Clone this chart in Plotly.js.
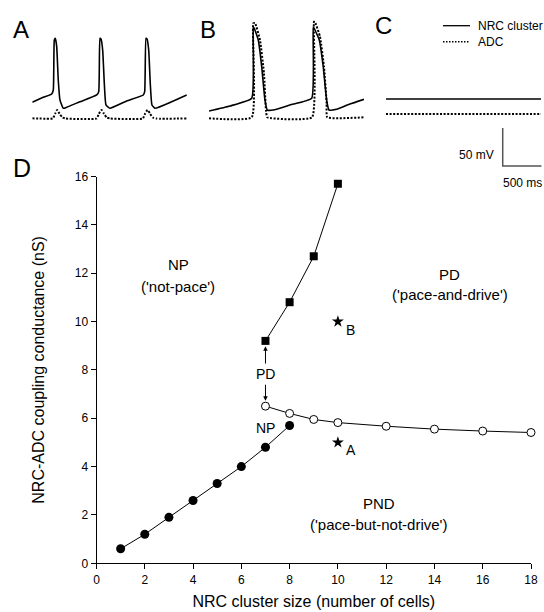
<!DOCTYPE html>
<html><head><meta charset="utf-8">
<script src="https://cdn.plot.ly/plotly-3.0.1.min.js"></script>
<style>html,body{margin:0;padding:0;background:#fff}#chart{width:544px;height:612px}</style>
</head><body><div id="chart"></div>
<script>
// ---------- Panel A (ms, mV) ----------
const aTime = [0, 142, 250, 271, 284, 297, 315, 335, 357, 400, 444, 615, 831, 857, 873, 886, 908, 929, 951, 1002, 1218, 1432, 1450, 1467, 1480, 1502, 1522, 1544, 1583, 1798, 1992];
const aNRC  = [-39, -32.4, -28, -22.8, 43, 45.3, 34.2, -9.6, -35.9, -46.8, -45.5, -38.2, -29.3, -25, 45.3, 44.4, 29.9, -13.9, -42.5, -46.8, -37.2, -29.3, -25, 45.3, 44.4, 29.9, -13.9, -42.5, -46.8, -38.2, -29.3];
const aAdcTime = [0, 265, 295, 320, 352, 390, 430, 830, 860, 893, 925, 960, 1005, 1425, 1455, 1487, 1520, 1555, 1600, 2000];
const aADC     = [-60, -60, -54, -49, -54, -59, -60.3, -60.3, -54, -49, -54, -59, -60.3, -60.3, -54, -49, -54, -59, -60.3, -60.3];

// ---------- Panel B ----------
const bTime = [0, 271, 551, 571, 584, 636, 680, 722, 752, 830, 1045, 1325, 1345, 1358, 1423, 1474, 1518, 1548, 1647, 1819, 2000];
const bNRC  = [-50.4, -43.8, -33.7, 60.1, 58.4, 43, 7.9, -35.9, -49.1, -49.1, -42.5, -33.7, 60.1, 58.4, 43, 7.9, -35.9, -49.1, -48.2, -41.2, -35];
const bAdcTime = [0, 551, 571, 593, 658, 709, 735, 752, 1329, 1355, 1367, 1432, 1484, 1518, 1526, 2000];
const bADC     = [-60, -58.7, 65, 65.4, 43, -0.8, -49.1, -58.7, -58.7, 67.1, 66.7, 47.4, 7.9, -40.3, -58.7, -58.7];

// ---------- Panel C ----------
const cTime = [0, 2000];
const cNRC  = [-34.6, -34.6];
const cADC  = [-54.3, -54.3];

// scale bar
const scaleMV = 50, scaleMS = 500;
const scaleX0 = 1506, scaleY0 = -122.8;

// ---------- Panel D ----------
const npX  = [1, 2, 3, 4, 5, 6, 7, 8];
const npY  = [0.6, 1.2, 1.9, 2.6, 3.3, 4.0, 4.8, 5.7];
const pndX = [7, 8, 9, 10, 12, 14, 16, 18];
const pndY = [6.5, 6.2, 5.95, 5.82, 5.67, 5.55, 5.47, 5.41];
const pdX  = [7, 8, 9, 10];
const pdY  = [9.2, 10.8, 12.7, 15.7];
const starX = [10, 10];
const starY = [5.0, 10.0];
const starLabels = ['A', 'B'];
const xTicks = [0, 2, 4, 6, 8, 10, 12, 14, 16, 18];
const yTicks = [0, 2, 4, 6, 8, 10, 12, 14, 16];

const FONT = 'Liberation Sans, Arial, sans-serif';
const solid = {color: '#000', width: 1.6, shape: 'spline', smoothing: 0.4};
const dotted = {color: '#000', width: 2, dash: '2px,1.6px', shape: 'spline', smoothing: 0.4};

const traces = [
  {x: aTime, y: aNRC, xaxis: 'x2', yaxis: 'y2', mode: 'lines', line: solid},
  {x: aAdcTime, y: aADC, xaxis: 'x2', yaxis: 'y2', mode: 'lines', line: dotted},
  {x: bTime, y: bNRC, xaxis: 'x3', yaxis: 'y3', mode: 'lines', line: solid},
  {x: bAdcTime, y: bADC, xaxis: 'x3', yaxis: 'y3', mode: 'lines', line: dotted},
  {x: cTime, y: cNRC, xaxis: 'x4', yaxis: 'y4', mode: 'lines', line: {color: '#000', width: 1.6}},
  {x: cTime, y: cADC, xaxis: 'x4', yaxis: 'y4', mode: 'lines', line: {color: '#000', width: 2, dash: '2px,1.6px'}},
  {x: [scaleX0, scaleX0, scaleX0 + scaleMS], y: [scaleY0 + scaleMV, scaleY0, scaleY0],
   xaxis: 'x4', yaxis: 'y4', mode: 'lines', line: {color: '#555', width: 1.5}},
  // main plot
  {x: pdX, y: pdY, mode: 'lines+markers', cliponaxis: false,
   line: {color: '#000', width: 1}, marker: {symbol: 'square', size: 8, color: '#000'}},
  {x: npX, y: npY, mode: 'lines+markers', cliponaxis: false,
   line: {color: '#000', width: 1}, marker: {symbol: 'circle', size: 9, color: '#000'}},
  {x: pndX, y: pndY, mode: 'lines+markers', cliponaxis: false,
   line: {color: '#000', width: 1}, marker: {symbol: 'circle', size: 8, color: '#fff', line: {color: '#000', width: 1}}},
  {x: starX, y: starY, mode: 'markers', cliponaxis: false,
   marker: {symbol: 'star', size: 9, color: '#000'}}
];

const W = 544, H = 612;
const hidden = {visible: false, fixedrange: true};
function lbl(x, y, text, size, extra) {
  return Object.assign({x: x, y: y, xref: 'x', yref: 'y', text: text, showarrow: false,
    xanchor: 'center', yanchor: 'middle',
    font: {family: FONT, size: size, color: '#000'}}, extra || {});
}
function paperLbl(px, py, text, size, extra) {
  return Object.assign({x: px / W, y: 1 - py / H, xref: 'paper', yref: 'paper', text: text,
    showarrow: false, xanchor: 'center', yanchor: 'middle',
    font: {family: FONT, size: size, color: '#000'}}, extra || {});
}

const annotations = [
  paperLbl(21, 29, 'A', 24), paperLbl(208, 29, 'B', 24), paperLbl(383, 26, 'C', 24),
  paperLbl(22, 168, 'D', 25),
  paperLbl(476, 25.7, 'NRC cluster', 12, {xanchor: 'left'}),
  paperLbl(476, 41.7, 'ADC', 12, {xanchor: 'left'}),
  {x: scaleX0, y: scaleY0 + scaleMV / 2, xref: 'x4', yref: 'y4', text: scaleMV + ' mV', showarrow: false,
   xanchor: 'right', yanchor: 'middle', xshift: -7, yshift: -8, font: {family: FONT, size: 12, color: '#000'}},
  {x: scaleX0 + scaleMS / 2, y: scaleY0, xref: 'x4', yref: 'y4', text: scaleMS + ' ms', showarrow: false,
   xanchor: 'center', yanchor: 'middle', yshift: -17, font: {family: FONT, size: 12, color: '#000'}},
  lbl(3.39, 12.34, 'NP', 15), lbl(3.39, 11.47, "('not-pace')", 15),
  lbl(14.64, 11.93, 'PD', 15), lbl(14.64, 11.10, "('pace-and-drive')", 15),
  lbl(11.7, 2.48, 'PND', 15), lbl(11.7, 1.6, "('pace-but-not-drive')", 15),
  lbl(7.0, 5.6, 'NP', 14),
  lbl(7.02, 7.84, 'PD', 14),
  {x: 7, y: 8.98, ax: 7, ay: 8.2, xref: 'x', yref: 'y', axref: 'x', ayref: 'y', text: '',
   showarrow: true, arrowhead: 2, arrowsize: 0.9, arrowwidth: 1, arrowcolor: '#000'},
  {x: 7, y: 6.72, ax: 7, ay: 7.45, xref: 'x', yref: 'y', axref: 'x', ayref: 'y', text: '',
   showarrow: true, arrowhead: 2, arrowsize: 0.9, arrowwidth: 1, arrowcolor: '#000'}
];
starLabels.forEach((t, i) => annotations.push(lbl(starX[i], starY[i], t, 14, {xshift: 13, yshift: -8})));

const shapes = [
  {type: 'line', xref: 'paper', yref: 'paper', x0: 443 / W, x1: 470 / W, y0: 1 - 25.7 / H, y1: 1 - 25.7 / H,
   line: {color: '#000', width: 1.3}},
  {type: 'line', xref: 'paper', yref: 'paper', x0: 443 / W, x1: 470 / W, y0: 1 - 41.7 / H, y1: 1 - 41.7 / H,
   line: {color: '#000', width: 1.5, dash: '1.5px,1.5px'}}
];

const msPerPx = 2000 / 155;
const layout = {
  width: W, height: H, margin: {l: 0, r: 0, t: 0, b: 0},
  paper_bgcolor: '#fff', plot_bgcolor: 'rgba(0,0,0,0)', showlegend: false,
  font: {family: FONT, color: '#000'},
  xaxis: {domain: [96.5 / W, 531 / W], range: [0, 18], tickvals: xTicks, ticks: 'outside', ticklen: 5,
    tickwidth: 1, tickcolor: '#000', showline: true, linecolor: '#000', linewidth: 1, showgrid: false,
    zeroline: false, fixedrange: true, tickfont: {family: FONT, size: 12, color: '#000'},
    title: {text: 'NRC cluster size (number of cells)', font: {family: FONT, size: 16, color: '#000'}, standoff: 10}},
  yaxis: {domain: [1 - 563.3 / H, 1 - 176.5 / H], range: [0, 16], tickvals: yTicks, ticks: 'outside', ticklen: 5,
    tickwidth: 1, tickcolor: '#000', showline: true, linecolor: '#000', linewidth: 1, showgrid: false,
    zeroline: false, fixedrange: true, tickfont: {family: FONT, size: 12, color: '#000'},
    title: {text: 'NRC-ADC coupling conductance (nS)', font: {family: FONT, size: 16, color: '#000'}, standoff: 26}},
  xaxis2: Object.assign({domain: [32.3 / W, 187.3 / W], range: [0, 2000], anchor: 'y2'}, hidden),
  yaxis2: Object.assign({domain: [1 - 130 / H, 1 - 15 / H], range: [-75.4, 75.9], anchor: 'x2'}, hidden),
  xaxis3: Object.assign({domain: [209 / W, 364 / W], range: [0, 2000], anchor: 'y3'}, hidden),
  yaxis3: Object.assign({domain: [1 - 130 / H, 1 - 15 / H], range: [-75.4, 75.9], anchor: 'x3'}, hidden),
  xaxis4: Object.assign({domain: [386 / W, 1], range: [0, (544 - 386) * msPerPx], anchor: 'y4'}, hidden),
  yaxis4: Object.assign({domain: [1 - 170 / H, 1 - 15 / H], range: [-128, 75.9], anchor: 'x4'}, hidden),
  annotations: annotations,
  shapes: shapes
};

Plotly.newPlot('chart', traces, layout, {displayModeBar: false, staticPlot: true});
</script>
</body></html>
